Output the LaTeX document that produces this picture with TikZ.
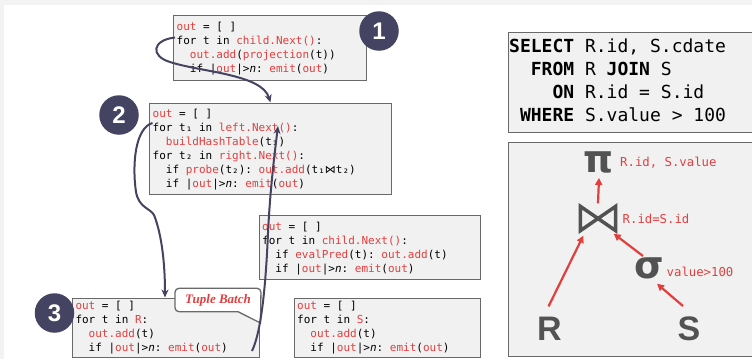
\documentclass[tikz,border=0pt]{standalone}
\usepackage{fontspec}
\setmainfont{Liberation Sans}
\setmonofont{DejaVu Sans Mono}
\newfontfamily\symfont{DejaVu Sans}
\newfontfamily\glyphfont{DejaVu Sans}
\newfontfamily\tbfont{Liberation Serif}
\usetikzlibrary{arrows.meta,calc}
\definecolor{myred}{RGB}{226,62,62}
\definecolor{navy}{RGB}{68,68,98}
\definecolor{boxfill}{RGB}{241,241,241}
\definecolor{boxline}{RGB}{105,105,105}
\definecolor{glyphgray}{RGB}{82,82,82}
\definecolor{pagegray}{RGB}{243,243,243}
\newcommand\rd[1]{\textcolor{myred}{#1}}
\newcommand\indt{\hphantom{xx}}
\newcommand\varn{{\itshape n}}
\tikzset{
  codebox/.style={draw=boxline, fill=boxfill, line width=1.3pt, inner sep=0pt, anchor=north west},
  codetext/.style={anchor=north west, inner sep=0pt, align=left, font=\ttfamily\fontsize{11}{14}\selectfont},
  numcirc/.style={circle, fill=navy, text=white, minimum size=39.5pt, inner sep=0pt, font=\bfseries\fontsize{24}{24}\selectfont},
  flow/.style={draw=navy, line width=2pt, -{Stealth[length=8pt,width=7pt]}},
  redarrow/.style={draw=myred, line width=2.2pt, -{Triangle[length=7pt,width=7pt]}},
  callout/.style={draw=boxline, fill=white, line width=1.3pt},
  glyph/.style={inner sep=0pt, anchor=base, text=glyphgray},
  redlabel/.style={inner sep=0pt, anchor=base west, text=myred, font=\ttfamily\fontsize{12.3}{12.3}\selectfont}
}
\begin{document}
\begin{tikzpicture}[x=1pt,y=-1pt]
\useasboundingbox (0,0) rectangle (752,359);
\fill[pagegray] (0,0) rectangle (752,359);
\fill[white] (4,5) rectangle (752,359);

% code boxes
\node[codebox, minimum width=193pt, minimum height=65pt] (b1) at (173,15) {};
\node[codebox, minimum width=242.5pt, minimum height=91pt] (b2) at (148.5,102.5) {};
\node[codebox, minimum width=221.5pt, minimum height=64pt] (bev) at (258.5,215) {};
\node[codebox, minimum width=187pt, minimum height=59pt] (b3) at (72,298) {};
\node[codebox, minimum width=186.5pt, minimum height=59pt] (bs) at (293.5,298) {};

\node[codetext] (t1) at (176.5,20.7) {\strut\rd{out} = [ ]\\
for t in \rd{child.Next()}:\\
\indt\rd{out.add}(\rd{projection}(t))\\
\indt if |\rd{out}|>\varn: \rd{emit}(\rd{out})};

\node[codetext] (t2) at (152.5,107.7) {\strut\rd{out} = [ ]\\
for t₁ in \rd{left.Next()}:\\
\indt\rd{buildHashTable}(t₁)\\
for t₂ in \rd{right.Next()}:\\
\indt if \rd{probe}(t₂): \rd{out.add}(t₁{\symfont ⋈}t₂)\\
\indt if |\rd{out}|>\varn: \rd{emit}(\rd{out})};

\node[codetext] (tev) at (262,220.7) {\strut\rd{out} = [ ]\\
for t in \rd{child.Next()}:\\
\indt if \rd{evalPred}(t): \rd{out.add}(t)\\
\indt if |\rd{out}|>\varn: \rd{emit}(\rd{out})};

\node[codetext] (t3) at (75.3,299.7) {\strut\rd{out} = [ ]\\
for t in \rd{R}:\\
\indt\rd{out.add}(t)\\
\indt if |\rd{out}|>\varn: \rd{emit}(\rd{out})};

\node[codetext] (ts) at (297,299.7) {\strut\rd{out} = [ ]\\
for t in \rd{S}:\\
\indt\rd{out.add}(t)\\
\indt if |\rd{out}|>\varn: \rd{emit}(\rd{out})};

% step circles
\node[numcirc] (n1) at (379,31) {1};
\node[numcirc] (n2) at (119,115) {2};
\node[numcirc] (n3) at (54.5,313) {3};

% tuple batch callout
\draw[callout, rounded corners=4pt] (238,311.7) -- (175,311.7) -- (175,288.3) -- (261,288.3) [sharp corners] -- (260.5,323) -- cycle;
\node[inner sep=0pt, text=myred, font=\tbfont\bfseries\itshape\fontsize{13}{13}\selectfont] (tb) at (218,300) {Tuple Batch};

% flow curves
\coordinate (s1) at (175,37.5);
\coordinate (s2) at (152.5,123);
\coordinate (e2) at (165,297.5);
\coordinate (s3) at (252,351);
\coordinate (e3) at (278,126);
\draw[flow] (s1) .. controls (152,40) and (150,56) .. (170,62) .. controls (200,72) and (262,74) .. (b2.north);
\draw[flow] (s2) .. controls (135,128) and (132,165) .. (136,192) .. controls (139,208) and (150,208) .. (154,215) .. controls (162,235) and (165,265) .. (e2);
\draw[flow] (s3) .. controls (262,330) and (266,280) .. (268,233) .. controls (270,190) and (275,150) .. (e3);

% SQL box
\node[codebox, minimum width=253pt, minimum height=100.5pt] (sql) at (507.5,31.5) {};
\node[anchor=north west, inner sep=0pt, align=left, font=\ttfamily\fontsize{18}{23.1}\selectfont] (sqltext) at (509,36.2) {\strut\textbf{SELECT} R.id, S.cdate\\
\hphantom{xx}\textbf{FROM} R \textbf{JOIN} S\\
\hphantom{xxxx}\textbf{ON} R.id = S.id\\
\hphantom{x}\textbf{WHERE} S.value > 100};

% plan tree box
\node[codebox, minimum width=253pt, minimum height=214.5pt] (tree) at (507.5,141.5) {};
\node[glyph, font=\glyphfont\bfseries\fontsize{38}{38}\selectfont] (pi) at (599,172) {π};
\node[inner sep=0pt, minimum width=35pt, minimum height=24pt] (join) at (598,218.5) {};
\draw[draw=glyphgray, line width=3.5pt, line join=miter] (join.north west) -- (join.south west) -- (join.north east) -- (join.south east) -- cycle;
\node[glyph, font=\glyphfont\bfseries\fontsize{38}{38}\selectfont] (sigma) at (649,278) {σ};
\node[glyph, font=\bfseries\fontsize{34}{34}\selectfont] (R) at (549.5,340) {R};
\node[glyph, font=\bfseries\fontsize{34}{34}\selectfont] (S) at (689,340) {S};

\node[redlabel] (lpi) at (620,166) {R.id, S.value};
\node[redlabel] (ljoin) at (622.5,223) {R.id=S.id};
\node[redlabel] (lsig) at (666.5,276.7) {value>100};

\draw[redarrow] ($(join.north)+(0,-3)$) -- ($(pi.south)+(0,5)$);
\draw[redarrow] ($(R.north)+(-1,-10)$) -- ($(join.south west)+(3,5)$);
\draw[redarrow] ($(sigma.north)+(-6,-1)$) -- ($(join.south east)+(-2,3)$);
\draw[redarrow] ($(S.north)+(-6,-10)$) -- ($(sigma.south)+(8,5)$);
\end{tikzpicture}
\end{document}
